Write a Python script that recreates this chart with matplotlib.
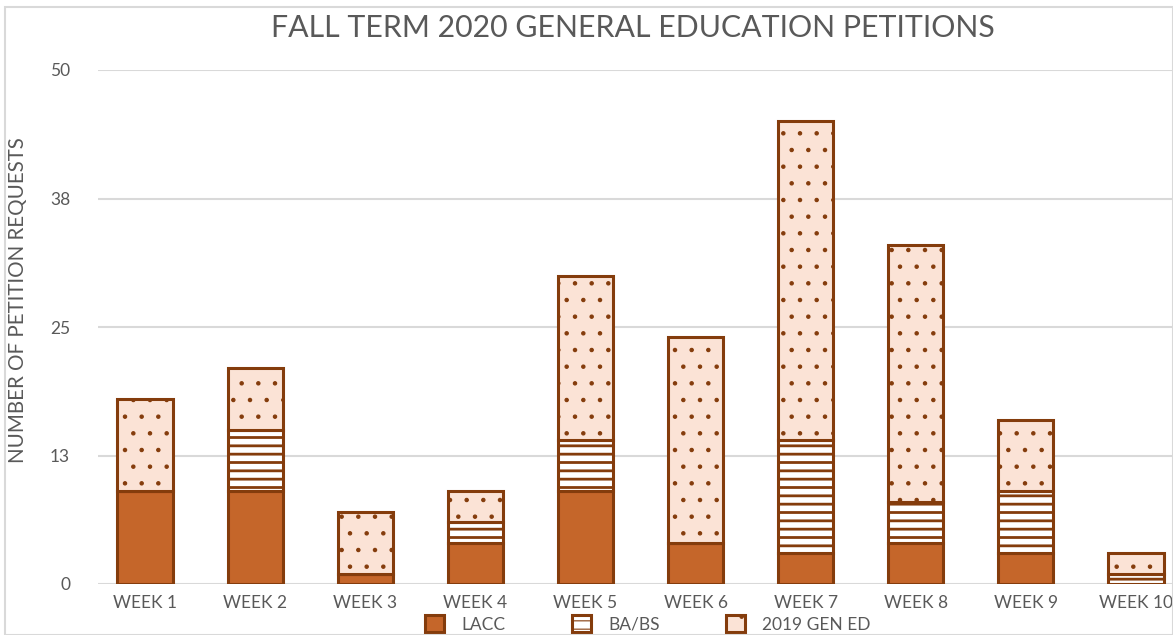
import matplotlib.pyplot as plt
from matplotlib.patches import Rectangle

plt.rcParams['font.family'] = ['Lato', 'DejaVu Sans']

weeks = ["WEEK 1", "WEEK 2", "WEEK 3", "WEEK 4", "WEEK 5",
         "WEEK 6", "WEEK 7", "WEEK 8", "WEEK 9", "WEEK 10"]
lacc = [9, 9, 1, 4, 9, 4, 3, 4, 3, 0]
babs = [0, 6, 0, 2, 5, 0, 11, 4, 6, 1]
gen_ed = [9, 6, 6, 3, 16, 20, 31, 25, 7, 2]
yticks = [0, 12.5, 25, 37.5, 50]
ytick_labels = ["0", "13", "25", "38", "50"]

W, H = 1173, 635
fig = plt.figure(figsize=(W / 100, H / 100), dpi=100)
ax = fig.add_axes([98 / W, 1 - 584 / H, (W - 98) / W, 514 / H])

edge = "#843C0C"
text_col = "#595959"
x = range(len(weeks))
bottom2 = [a + b for a, b in zip(lacc, babs)]

ax.bar(x, lacc, width=0.5, color="#C5662A", edgecolor=edge, linewidth=2.2, label="LACC", zorder=3)
# hatch line width is taken when the bars are made
plt.rcParams['hatch.linewidth'] = 2.0
ax.bar(x, babs, width=0.5, bottom=lacc, color="white", edgecolor=edge, linewidth=2.2,
       hatch="--", label="BA/BS", zorder=3)
plt.rcParams['hatch.linewidth'] = 0.8
ax.bar(x, gen_ed, width=0.5, bottom=bottom2, color="#FBE3D6", edgecolor=edge, linewidth=2.2,
       hatch=".", label="2019 GEN ED", zorder=3)

ax.set_xlim(-0.427, 9.336)
ax.set_ylim(0, 50)
ax.set_yticks(yticks)
ax.set_yticklabels(ytick_labels)
ax.set_xticks(list(x))
ax.set_xticklabels(weeks)
ax.tick_params(length=0, labelsize=12.5, colors=text_col, pad=8)
ax.tick_params(axis="y", pad=20)
ax.grid(axis="y", color="#D9D9D9", linewidth=1.5, zorder=0)
for s in ax.spines.values():
    s.set_visible(False)

fig.text(633 / W, 1 - 28 / H, "FALL TERM 2020 GENERAL EDUCATION PETITIONS",
         ha="center", va="center", fontsize=21.8, color=text_col)
fig.text(18 / W, 1 - 300 / H, "NUMBER OF PETITION REQUESTS", rotation=90,
         ha="center", va="center", fontsize=14.8, color=text_col)

ax.legend(loc="center", bbox_to_anchor=(648 / W, 1 - 624 / H), bbox_transform=fig.transFigure,
          ncol=3, frameon=False, fontsize=12.5, labelcolor=text_col,
          handlelength=1.1, handleheight=1.1, columnspacing=3.8, handletextpad=1.0)

fig.add_artist(Rectangle((5 / W, 0), (W - 5) / W, 1 - 7 / H, transform=fig.transFigure,
                         fill=False, edgecolor="#D9D9D9", linewidth=1.5))

fig.savefig("out.png", dpi=100)
